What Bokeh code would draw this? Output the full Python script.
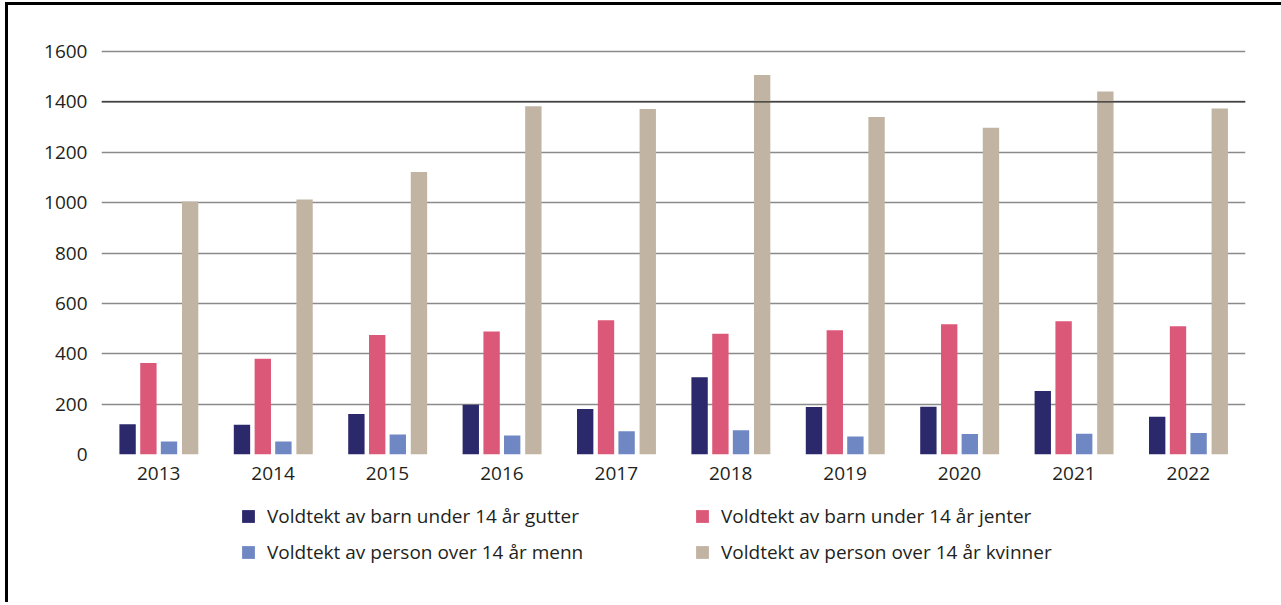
from bokeh.plotting import figure
from bokeh.layouts import column
from bokeh.models import FactorRange, Range1d, Legend, LegendItem, Span, FixedTicker, ColumnDataSource
from bokeh.transform import dodge
from bokeh.embed import file_html
from bokeh.resources import INLINE

years = ["2013", "2014", "2015", "2016", "2017", "2018", "2019", "2020", "2021", "2022"]
gutter = [120, 118, 161, 198, 181, 307, 189, 190, 252, 150]
jenter = [363, 380, 475, 488, 533, 479, 493, 517, 529, 509]
menn = [52, 52, 79, 75, 92, 96, 71, 81, 82, 85]
kvinner = [1005, 1013, 1122, 1383, 1372, 1507, 1340, 1298, 1441, 1374]
series_labels = [
    "Voldtekt av barn under 14 år gutter",
    "Voldtekt av barn under 14 år jenter",
    "Voldtekt av person over 14 år menn",
    "Voldtekt av person over 14 år kvinner",
]
colors = ["#2B286B", "#DC5878", "#6F87C3", "#C2B4A3"]
y_ticks = [0, 200, 400, 600, 800, 1000, 1200, 1400, 1600]
dark_grid_value = 1400

FONT = "Open Sans"
TXT = "#231F20"

src = ColumnDataSource(dict(year=years, g=gutter, j=jenter, m=menn, k=kvinner))
keys = ["g", "j", "m", "k"]

p = figure(
    x_range=FactorRange(*years, range_padding=0),
    y_range=Range1d(0, 1640),
    frame_width=1144, frame_height=413,
    min_border_left=93, min_border_right=36, min_border_top=36, min_border_bottom=36,
    output_backend="svg", toolbar_location=None,
    background_fill_color="white", border_fill_color="white",
)
p.outline_line_color = None

offsets = [-0.272, -0.09, 0.09, 0.275]
for key, off, col in zip(keys, offsets, colors):
    p.vbar(x=dodge("year", off, range=p.x_range), top=key, width=0.143, source=src,
           fill_color=col, line_color=None)

p.xgrid.grid_line_color = None
p.ygrid.ticker = FixedTicker(ticks=y_ticks)
p.ygrid.grid_line_color = "#8A8A8A"
p.ygrid.grid_line_width = 1.3
p.add_layout(Span(location=dark_grid_value, dimension="width", line_color="#2A2A2A", line_width=1.3))

p.yaxis.ticker = FixedTicker(ticks=y_ticks)
p.yaxis.axis_line_color = None
p.yaxis.major_tick_line_color = None
p.yaxis.minor_tick_line_color = None
p.yaxis.major_label_standoff = 8
p.yaxis.major_label_text_font = FONT
p.yaxis.major_label_text_font_size = "19px"
p.yaxis.major_label_text_color = TXT

p.xaxis.axis_line_color = None
p.xaxis.major_tick_line_color = None
p.xaxis.minor_tick_line_color = None
p.xaxis.major_label_standoff = 6
p.xaxis.major_label_text_font = FONT
p.xaxis.major_label_text_font_size = "19px"
p.xaxis.major_label_text_color = TXT

# Legend in its own strip below the chart (zero-width proxies; only the legend shows)
pl = figure(
    width=1273, height=112, x_range=FactorRange(*years), y_range=Range1d(-30000, -20000),
    x_axis_type=None, y_axis_type=None, min_border=0,
    output_backend="svg", toolbar_location=None,
    background_fill_color="white", border_fill_color="white",
)
pl.outline_line_color = None
pl.grid.visible = False
leg_renderers = [pl.vbar(x="year", top=key, width=0, source=src, fill_color=c, line_color=None)
                 for key, c in zip(keys, colors)]
items = [LegendItem(label=lab, renderers=[r]) for lab, r in zip(series_labels, leg_renderers)]
# column-major filling: col 1 = gutter, menn ; col 2 = jenter, kvinner
items = [items[0], items[2], items[1], items[3]]
legend = Legend(
    items=items, ncols=2, location=(139, 37),
    glyph_width=16, glyph_height=16, label_standoff=11,
    label_width=417, label_height=24, spacing=10, padding=0, margin=0,
    border_line_color=None, background_fill_alpha=0,
    label_text_font=FONT, label_text_font_size="19px", label_text_color=TXT,
)
pl.add_layout(legend, "center")

layout = column(p, pl, spacing=0, styles={
    "border-left": "3px solid black", "border-top": "3px solid black",
    "margin-left": "5px", "margin-top": "2px",
})

open("out.html", "w").write(file_html(layout, INLINE))
